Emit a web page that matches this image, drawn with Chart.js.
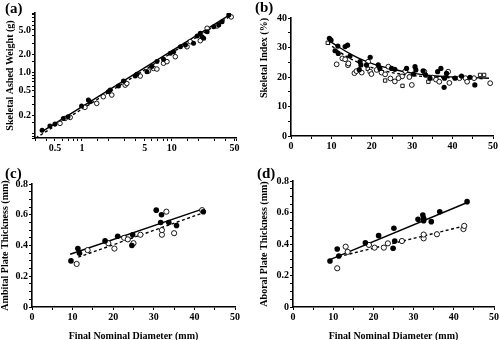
<!DOCTYPE html>
<html><head><meta charset="utf-8">
<script src="https://cdn.jsdelivr.net/npm/chart.js@4/dist/chart.umd.min.js"></script>
<style>
body{margin:0;background:#fff;width:500px;height:340px;position:relative;overflow:hidden}
canvas{position:absolute}
.lbl{position:absolute;font:bold 15px "Liberation Serif",serif;color:#000;line-height:15px}
</style></head><body>
<canvas id="ca" width="250" height="170" style="left:0;top:0"></canvas>
<canvas id="cb" width="250" height="170" style="left:250px;top:0"></canvas>
<canvas id="cc" width="250" height="170" style="left:0;top:170px"></canvas>
<canvas id="cd" width="250" height="170" style="left:250px;top:170px"></canvas>
<div class="lbl" style="left:5px;top:1px">(a)</div>
<div class="lbl" style="left:255px;top:0px">(b)</div>
<div class="lbl" style="left:5px;top:166px">(c)</div>
<div class="lbl" style="left:257px;top:166px">(d)</div>
<script>
// ---------- Panel (a): log-log ----------
const aFilledX = [0.36,0.44,0.50,0.62,0.70,0.99,1.18,1.23,1.97,2.06,2.55,2.9,3.92,4.09,5.3,6.0,6.84,8.1,9.64,10.5,12.5,14.2,17.5,19.2,20.8,21.8,22.7,24.8,29.4,33.4,36.4,43.2];
const aFilledY = [0.113,0.132,0.142,0.176,0.188,0.281,0.353,0.331,0.483,0.515,0.60,0.725,0.875,0.94,1.03,1.25,1.51,1.65,2.07,2.2,2.65,2.83,3.02,3.98,4.42,3.88,3.65,4.69,5.67,6.04,6.85,8.83];
const aOpenX = [0.57,0.65,0.74,1.08,1.46,1.73,2.15,3.03,3.16,4.46,5.52,6.27,6.84,8.1,8.85,10.96,14.8,16.1,20.8,24.8,32,46];
const aOpenY = [0.146,0.176,0.183,0.268,0.311,0.40,0.427,0.62,0.66,0.875,1.06,1.17,1.14,1.42,1.51,1.82,2.65,3.21,3.33,5.33,5.82,8.2];
const aSolidX = [0.355,44.2], aSolidY = [0.106,8.83];
const aDashX = [0.306,46], aDashY = [0.084,8.6];
const aXTickLabels = [0.5,1,5,10,50];
const aYTickLabels = [0.2,0.5,1,2,5];

// ---------- Panel (b) ----------
const bFilledX = [9.5,9.9,10.9,11.6,11.7,13.4,14.0,14.6,16.9,17.1,17.3,18.7,19.6,21.6,22.0,24.9,25.7,28.6,30.3,30.7,30.9,32.7,33.3,34.4,36.3,37.1,37.9,38.0,38.5,40.6,42.2,44.3,45.5];
const bFilledY = [33.1,32.5,28.9,30.5,28.0,30.3,30.8,27.1,22.5,25.2,24.1,24.1,26.7,24.1,22.9,22.9,22.6,22.9,21.0,23.5,22.4,22.1,20.7,19.6,21.8,22.9,16.5,19.6,21.2,19.6,20.3,19.9,17.3];
const bOpenX = [11.3,12.7,13.4,14.1,14.2,15.7,16.2,17.5,19.1,19.6,19.9,21.2,22.4,23.3,24.1,24.6,25.7,27.5,26.6,28.3,29.3,29.9,33.0,35.0,35.9,36.7,38.9,39.2,41.7,43.2,43.6,45.3,49.3];
const bOpenY = [24.3,26.3,26.0,24.0,24.6,21.3,22.0,21.5,25.2,21.8,21.0,22.4,21.5,20.9,23.5,19.5,18.5,20.2,19.6,22.0,20.0,17.3,21.8,19.8,19.1,18.4,21.8,18.0,19.6,19.6,18.4,19.6,17.9];
const bSquareX = [9.1,23.3,27.6,34.0,46.8,47.8,19.0];
const bSquareY = [31.6,18.8,17.0,18.4,20.7,20.7,22.8];
const bSolidX = [9.2,12,15,18,21,25,30,35,40,45,49];
const bSolidY = [32.5,30,27.6,25.6,24.1,22.7,21.3,20.4,20.0,19.8,19.6];
const bDashX = [9.1,12,15,18,21,25,30,35,40,45,48];
const bDashY = [31.6,28.5,26,24.2,22.8,21.5,20.5,20.0,19.7,19.5,19.4];

// ---------- Panel (c) ----------
const cFilledX = [9.6,11.3,11.7,18.0,21.1,24.6,24.8,30.6,31.7,31.9,33.7,35.6,42.2];
const cFilledY = [0.30,0.38,0.35,0.43,0.46,0.40,0.47,0.63,0.55,0.60,0.55,0.53,0.62];
const cOpenX = [11.0,13.7,18.8,20.3,22.7,23.6,25.0,26.7,32.0,32.0,33.1,35.0,41.9];
const cOpenY = [0.28,0.37,0.415,0.38,0.45,0.44,0.415,0.47,0.47,0.50,0.62,0.48,0.63];
const cSolidX = [9.4,42.3], cSolidY = [0.343,0.64];
const cDashX = [11.4,41.9], cDashY = [0.324,0.61];

// ---------- Panel (d) ----------
const dFilledX = [9.2,11.0,11.4,18.0,21.3,24.9,25.1,25.3,31.1,32.3,32.5,32.5,34.4,36.5,43.3];
const dFilledY = [0.292,0.368,0.324,0.408,0.453,0.373,0.50,0.419,0.557,0.584,0.563,0.548,0.542,0.605,0.669];
const dOpenX = [11.0,13.1,13.6,18.9,20.3,22.6,23.6,27.1,32.5,32.5,35.8,42.4,42.6];
const dOpenY = [0.246,0.383,0.35,0.394,0.377,0.377,0.404,0.419,0.436,0.46,0.462,0.495,0.515];
const dSolidX = [8.9,43.5], dSolidY = [0.298,0.665];
const dDashX = [11.4,42.9], dDashY = [0.32,0.516];

const xTitle = 'Final Nominal Diameter (mm)';

Chart.defaults.font.family = "'Liberation Serif','Times New Roman',serif";
Chart.defaults.font.weight = 'bold';
Chart.defaults.font.size = 10;
Chart.defaults.color = '#000';
Chart.defaults.animation = false;

function pts(xs, ys){ return xs.map((x,i)=>({x:x, y:ys[i]})); }
function filledSet(xs,ys,r){ return {data:pts(xs,ys), pointStyle:'circle', pointRadius:r||2.8, backgroundColor:'#000', borderColor:'#000', borderWidth:0, showLine:false, order:1}; }
function openSet(xs,ys,style,r){ return {data:pts(xs,ys), pointStyle:style||'circle', pointRadius:r||2.6, backgroundColor:'#fff', borderColor:'#000', borderWidth:0.9, showLine:false, order:2}; }
function lineSet(xs,ys,dash,tension){ return {data:pts(xs,ys), showLine:true, pointRadius:0, borderColor:'#000', borderWidth:1.4, borderDash:dash?[3,2.5]:[], fill:false, tension:tension||0, cubicInterpolationMode: tension? 'monotone':'default', order:3}; }

function near(v, list){ return list.some(t => Math.abs(v - t) < t*1e-3); }

function gridOpts(){ return {display:true, drawOnChartArea:false, drawTicks:true, tickLength:3, color:'#000', lineWidth:1}; }
function borderOpts(){ return {display:true, color:'#000', width:1.6}; }

function make(id, area, xs, ys, datasets){
  xs.afterFit = s => { s.height = 170 - area.bottom; };
  ys.afterFit = s => { s.width = area.left; };
  new Chart(document.getElementById(id), {
    type:'scatter',
    data:{datasets:datasets},
    options:{
      responsive:false, animation:false,
      layout:{padding:{top:area.top, right:250-area.right, left:0, bottom:0}},
      plugins:{legend:{display:false}, tooltip:{enabled:false}},
      scales:{x:xs, y:ys}
    }
  });
}

function linX(title){
  return {type:'linear', min:0, max:50,
    ticks:{stepSize:5, autoSkip:false, maxRotation:0, padding:1,
      callback:v => (Math.round(v)%10===0 ? String(Math.round(v)) : '')},
    grid:gridOpts(), border:borderOpts(),
    title: title ? {display:true, text:title, font:{size:10, weight:'bold'}, padding:{top:0,bottom:-2}} : {display:false}};
}

// (a)
make('ca', {left:35, top:13, right:236, bottom:138},
  {type:'logarithmic', min:0.3, max:52,
    ticks:{autoSkip:false, maxRotation:0, padding:1,
      callback:v => near(v,aXTickLabels) ? String(+v.toPrecision(2)) : ''},
    grid:gridOpts(), border:borderOpts()},
  {type:'logarithmic', min:0.084, max:9.5,
    ticks:{autoSkip:false, padding:1,
      callback:v => near(v,aYTickLabels) ? (+v).toFixed(1) : ''},
    grid:gridOpts(), border:borderOpts(),
    title:{display:true, text:'Skeletal Ashed Weight (g)', font:{size:10, weight:'bold'}, padding:{top:4,bottom:0}}},
  [filledSet(aFilledX,aFilledY,2.5), openSet(aOpenX,aOpenY,'circle',2.3), lineSet(aSolidX,aSolidY,false), lineSet(aDashX,aDashY,true)]);

// (b)
make('cb', {left:41, top:18, right:243, bottom:136},
  linX(null),
  {type:'linear', min:0, max:40,
    ticks:{stepSize:5, autoSkip:false, padding:1,
      callback:v => (Math.round(v)%10===0 ? String(Math.round(v)) : '')},
    grid:gridOpts(), border:borderOpts(),
    title:{display:true, text:'Skeletal Index (%)', align:'end', font:{size:10, weight:'bold'}, padding:{top:8,bottom:0}}},
  [filledSet(bFilledX,bFilledY,2.6), openSet(bOpenX,bOpenY,'circle',2.4), openSet(bSquareX,bSquareY,'rect',2.4), lineSet(bSolidX,bSolidY,false,0.4), lineSet(bDashX,bDashY,true,0.4)]);

function linY(title, pad){
  return {type:'linear', min:0, max:0.8,
    ticks:{stepSize:0.05, autoSkip:false, padding:1,
      callback:v => { const k = Math.round(v*100); return k%20===0 ? (k===0 ? '0' : (k/100).toFixed(1)) : ''; }},
    grid:gridOpts(), border:borderOpts(),
    title:{display:true, text:title, font:{size:10, weight:'bold'}, padding:{top:pad,bottom:0}}};
}

// (c)
make('cc', {left:32, top:14, right:235, bottom:137},
  linX(xTitle), linY('Ambital Plate Thickness (mm)', -1),
  [filledSet(cFilledX,cFilledY), openSet(cOpenX,cOpenY), lineSet(cSolidX,cSolidY,false), lineSet(cDashX,cDashY,true)]);

// (d)
make('cd', {left:43, top:11, right:246, bottom:137},
  linX(xTitle), linY('Aboral Plate Thickness (mm)', 8),
  [filledSet(dFilledX,dFilledY), openSet(dOpenX,dOpenY), lineSet(dSolidX,dSolidY,false), lineSet(dDashX,dDashY,true)]);
</script>
</body></html>
